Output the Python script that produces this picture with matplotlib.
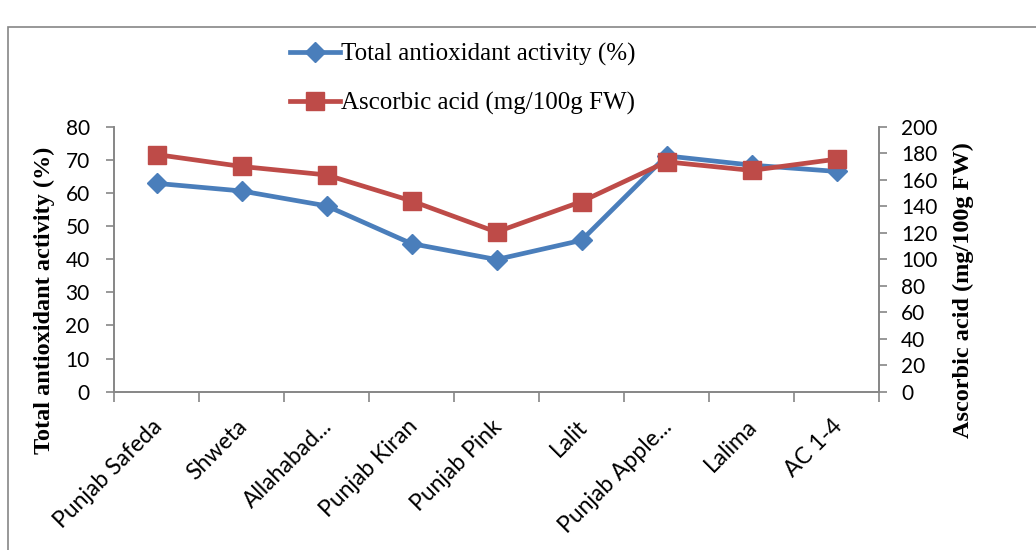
import matplotlib
matplotlib.use("Agg")
import matplotlib.pyplot as plt
from matplotlib.patches import Rectangle
from matplotlib.transforms import offset_copy
import numpy as np

categories = ["Punjab Safeda", "Shweta", "Allahabad...", "Punjab Kiran", "Punjab Pink",
              "Lalit", "Punjab Apple...", "Lalima", "AC 1-4"]
antioxidant = [62.9, 60.6, 56.1, 44.7, 39.9, 45.7, 71.2, 68.4, 66.5]
ascorbic = [179, 170, 163.6, 144, 120.5, 143.5, 173.5, 167, 175.5]

left_ticks = list(range(0, 81, 10))
right_ticks = list(range(0, 201, 20))

blue = "#4A7EBB"
red = "#BE4B48"
grey = "#868686"

fig = plt.figure(figsize=(10.36, 5.5), dpi=100)
fig.patches.append(Rectangle((8 / 1036, -0.1), 1.2, 1 - 27 / 550 + 0.1, transform=fig.transFigure,
                             fill=False, edgecolor=grey, linewidth=1.2))

L, R, B, T = 114, 879, 391.7, 126.7
ax = fig.add_axes([L / 1036, 1 - B / 550, (R - L) / 1036, (B - T) / 550])
ax2 = ax.twinx()

x = np.arange(len(categories))
l1, = ax.plot(x, antioxidant, color=blue, lw=3.4, marker="D", ms=10.5, label="Total antioxidant activity (%)")
l2, = ax2.plot(x, ascorbic, color=red, lw=3.4, marker="s", ms=12.5, label="Ascorbic acid (mg/100g FW)")

ax.set_xlim(-0.5, len(categories) - 0.5)
ax.set_ylim(0, 80)
ax2.set_ylim(0, 200)
ax.set_yticks(left_ticks)
ax2.set_yticks(right_ticks)

tickfont = dict(family="Lato", size=15)
ax.set_yticklabels([str(v) for v in left_ticks], **tickfont)
ax2.set_yticklabels([str(v) for v in right_ticks], **tickfont)

ax.set_xticks(np.arange(len(categories) + 1) - 0.5)
ax.set_xticklabels([])
ax.tick_params(axis="x", which="major", length=7, color=grey, width=1.2)
ax.tick_params(axis="y", length=6, color=grey, width=1.2, pad=11.5)
ax2.tick_params(axis="y", length=6, color=grey, width=1.2, pad=10)

lab_tr = offset_copy(ax.get_xaxis_transform(), fig=fig, x=-5, y=-24, units="dots")
for i, cat in enumerate(categories):
    ax.text(i, 0, cat, transform=lab_tr, rotation=45, ha="right", va="top",
            rotation_mode="anchor", family="Lato", size=16.5)

for a in (ax, ax2):
    a.spines["top"].set_visible(False)
    for s in ("left", "right", "bottom"):
        a.spines[s].set_color(grey)
        a.spines[s].set_linewidth(1.2)

ax.set_ylabel("Total antioxidant activity (%)", family="Liberation Serif", weight="bold", size=17.5)
ax2.set_ylabel("Ascorbic acid (mg/100g FW)", family="Liberation Serif", weight="bold", size=17.5)
ax.yaxis.set_label_coords((55 - L) / (R - L), (B - 300) / (B - T))
ax2.yaxis.set_label_coords((953 - L) / (R - L), (B - 290) / (B - T))

fig.legend(handles=[l1, l2], loc="upper left", bbox_to_anchor=(290 / 1036, 1 - 43 / 550),
           frameon=False, prop=dict(family="Liberation Serif", size=18),
           handlelength=2.0, handletextpad=0.05, labelspacing=1.05, borderaxespad=0, borderpad=0)

fig.savefig("out.png", dpi=100)
